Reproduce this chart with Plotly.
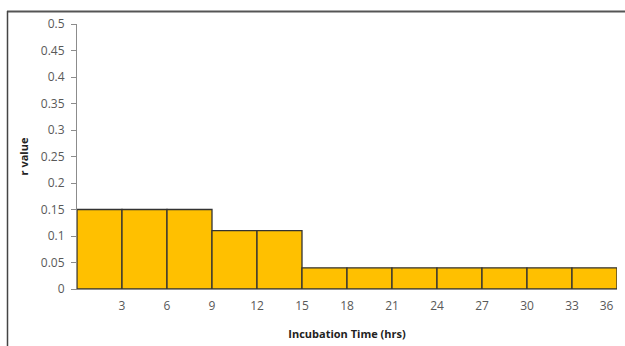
import plotly.graph_objects as go

# Data
bin_edges_hrs = [0, 3, 6, 9, 12, 15, 18, 21, 24, 27, 30, 33, 36]
r_values = [0.15, 0.15, 0.15, 0.11, 0.11, 0.04, 0.04, 0.04, 0.04, 0.04, 0.04, 0.04]
x_tick_labels = ["3", "6", "9", "12", "15", "18", "21", "24", "27", "30", "33", "36"]
y_tick_vals = [0, 0.05, 0.1, 0.15, 0.2, 0.25, 0.3, 0.35, 0.4, 0.45, 0.5]
y_tick_text = ["0", "0.05", "0.1", "0.15", "0.2", "0.25", "0.3", "0.35", "0.4", "0.45", "0.5"]

centers = [(a + b) / 2 for a, b in zip(bin_edges_hrs[:-1], bin_edges_hrs[1:])]
widths = [b - a for a, b in zip(bin_edges_hrs[:-1], bin_edges_hrs[1:])]
# last label sits slightly inside the right edge, as in the original
x_tick_pos = list(bin_edges_hrs[1:-1]) + [bin_edges_hrs[-1] - 0.7]

W, H = 625, 346
L, R, T, B = 77, 8, 24, 57
pw, ph = W - L - R, H - T - B

def px_x(p):
    return (p - L) / pw

def px_y(p):
    return (H - B - p) / ph

fig = go.Figure(go.Bar(
    x=centers, y=r_values, width=widths,
    marker=dict(color="#FFC000", line=dict(color="#333333", width=1.3)),
))

tick_font = dict(family="Open Sans", size=12, color="#595959")
title_font = dict(family="Open Sans", size=11, color="#222222")

fig.update_layout(
    width=W, height=H,
    margin=dict(l=L, r=R, t=T, b=B, autoexpand=False),
    paper_bgcolor="white", plot_bgcolor="white",
    showlegend=False,
    xaxis=dict(
        range=[bin_edges_hrs[0], bin_edges_hrs[-1]],
        tickvals=x_tick_pos, ticktext=x_tick_labels,
        ticks="", showgrid=False, zeroline=False, automargin=False,
        showline=True, linecolor="#8c8c8c", linewidth=1,
        tickfont=tick_font, ticklabelstandoff=6,
        title=dict(text="<b>Incubation Time (hrs)</b>", font=title_font, standoff=16),
    ),
    yaxis=dict(
        range=[0, 0.5],
        tickvals=y_tick_vals, ticktext=y_tick_text,
        ticks="outside", ticklen=5, tickcolor="#8c8c8c",
        showgrid=False, zeroline=False, automargin=False,
        showline=True, linecolor="#8c8c8c", linewidth=1,
        tickfont=tick_font, ticklabelstandoff=4,
        title=dict(text="<b>r value</b>", font=title_font, standoff=9),
    ),
    shapes=[
        dict(type="line", xref="paper", yref="paper",
             x0=px_x(7), x1=px_x(W + 2), y0=px_y(11.5), y1=px_y(11.5),
             line=dict(color="#555555", width=2)),
        dict(type="line", xref="paper", yref="paper",
             x0=px_x(7.5), x1=px_x(7.5), y0=px_y(11), y1=px_y(H + 2),
             line=dict(color="#444444", width=1.5)),
    ],
)

fig.write_html("out.html")
